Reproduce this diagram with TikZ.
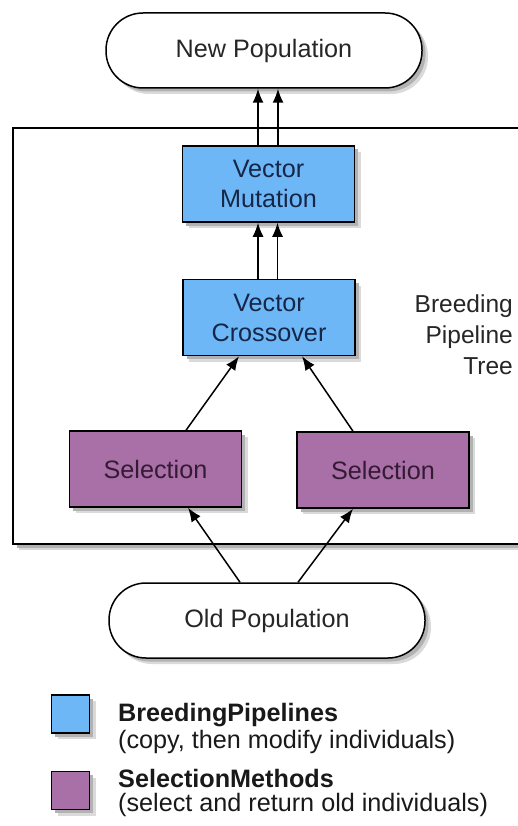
\documentclass[tikz,border=0pt]{standalone}
\usepackage{fontspec}
\setmainfont{Liberation Sans}
\usetikzlibrary{arrows.meta,calc}

\definecolor{pipeblue}{RGB}{110,183,246}
\definecolor{selpurple}{RGB}{168,112,166}
\definecolor{inkgray}{RGB}{38,38,38}
\definecolor{inkblue}{RGB}{22,38,72}
\definecolor{inkplum}{RGB}{52,26,52}
\definecolor{shadelight}{RGB}{218,218,218}
\definecolor{shadedark}{RGB}{178,178,178}

\tikzset{
  bigfont/.style={font=\fontsize{25.2}{30}\selectfont},
  pop/.style={draw=black, line width=1.5pt, fill=white, rounded corners=37pt,
    minimum width=316pt, minimum height=75pt, inner sep=0pt, text=inkgray, bigfont},
  opbox/.style={draw=black, line width=1.5pt, minimum width=172pt, minimum height=76pt,
    inner sep=0pt, align=center, bigfont},
  pipe/.style={opbox, fill=pipeblue, text=inkblue},
  selbox/.style={opbox, fill=selpurple, text=inkplum},
  keybox/.style={draw=black, line width=1.5pt, minimum size=38pt, inner sep=0pt},
  keytext/.style={anchor=base west, inner sep=0pt, text=black!90, bigfont},
  frameline/.style={draw=black, line width=1.5pt, fill=white},
  softshade/.style={fill=shadelight},
  darkshade/.style={fill=shadedark},
  arr/.style={draw=black, line width=1.5pt, -{Latex[length=14pt,width=11pt]}},
}

% soft drop shadow of a box: centre x, centre y, width, height, corner radius
\newcommand{\shadowat}[5]{%
  \fill[softshade, rounded corners=#5]
    ({#1-#3/2+6},{#2-#4/2+6}) rectangle ({#1+#3/2+6},{#2+#4/2+6});
  \fill[darkshade, rounded corners=#5]
    ({#1-#3/2+3.5},{#2-#4/2+3.5}) rectangle ({#1+#3/2+3.5},{#2+#4/2+3.5});
}

\begin{document}
\begin{tikzpicture}[x=1pt, y=-1pt]
  \clip (0,0) rectangle (518,826);
  \fill[white] (0,0) rectangle (518,826);

  % enclosing frame and its shadow
  \coordinate (frameNW) at (13,128);
  \coordinate (frameSE) at (545,544);
  \fill[softshade] ($(frameNW)+(6,6)$) rectangle ($(frameSE)+(6,6)$);
  \fill[darkshade] ($(frameNW)+(3.5,3.5)$) rectangle ($(frameSE)+(3.5,3.5)$);
  \path[frameline] (frameNW) rectangle (frameSE);

  % shadows under the shapes
  \shadowat{264}{50.5}{316}{75}{37pt}
  \shadowat{267}{620.5}{316}{75}{37pt}
  \shadowat{268.5}{184}{172}{76}{0pt}
  \shadowat{269}{317.5}{172}{76}{0pt}
  \shadowat{155.5}{469}{172}{76}{0pt}
  \shadowat{383}{470}{172}{76}{0pt}
  \shadowat{70.5}{714}{38}{38}{0pt}
  \shadowat{70.5}{790.5}{38}{38}{0pt}

  % populations
  \node[pop] (newpop) at (264,50.5) {New Population};
  \node[pop] (oldpop) at (267,620.5) {Old Population};

  % pipeline operators
  \node[pipe] (mut) at (268.5,184) {Vector\\Mutation};
  \node[pipe] (cross) at (269,317.5) {Vector\\Crossover};

  % selection methods
  \node[selbox] (selL) at (155.5,469) {Selection};
  \node[selbox] (selR) at (383,470) {Selection};

  % legend keys
  \node[keybox, fill=pipeblue] (keyA) at (70.5,714) {};
  \node[keybox, fill=selpurple] (keyB) at (70.5,790.5) {};

  % tree label
  \node[anchor=north east, inner sep=0pt, align=right, text=inkgray,
        font=\fontsize{24.5}{31}\selectfont] (treelabel) at (513,295)
        {Breeding\\Pipeline\\Tree};

  % attachment points of the paired connectors
  \coordinate (m1) at ($(mut.north)+(-10.5,0)$);
  \coordinate (m2) at ($(mut.north)+(9.5,0)$);
  \coordinate (c1) at ($(cross.north)+(-11,0)$);
  \coordinate (c2) at ($(cross.north)+(8.5,0)$);

  % connectors
  \draw[arr] (m1) -- (m1 |- newpop.south);
  \draw[arr] (m2) -- (m2 |- newpop.south);
  \draw[arr] (c1) -- (c1 |- mut.south);
  \draw[arr] (c2) -- (c2 |- mut.south);
  \draw[arr] ($(selL.north)+(30.5,0)$) -- ($(cross.south)+(-30,0)$);
  \draw[arr] ($(selR.north)+(-30,0)$) -- ($(cross.south)+(33,0)$);
  \draw[arr] ($(oldpop.north)+(-27,0)$) -- ($(selL.south)+(32.5,0)$);
  \draw[arr] ($(oldpop.north)+(31,0)$) -- ($(selR.south)+(-30,0)$);

  % legend texts
  \node[keytext] (keyAname) at (118,721) {\textbf{BreedingPipelines}};
  \node[keytext] (keyAdesc) at (118,748) {(copy, then modify individuals)};
  \node[keytext] (keyBname) at (118,787) {\textbf{SelectionMethods}};
  \node[keytext] (keyBdesc) at (118,811) {(select and return old individuals)};
\end{tikzpicture}
\end{document}
